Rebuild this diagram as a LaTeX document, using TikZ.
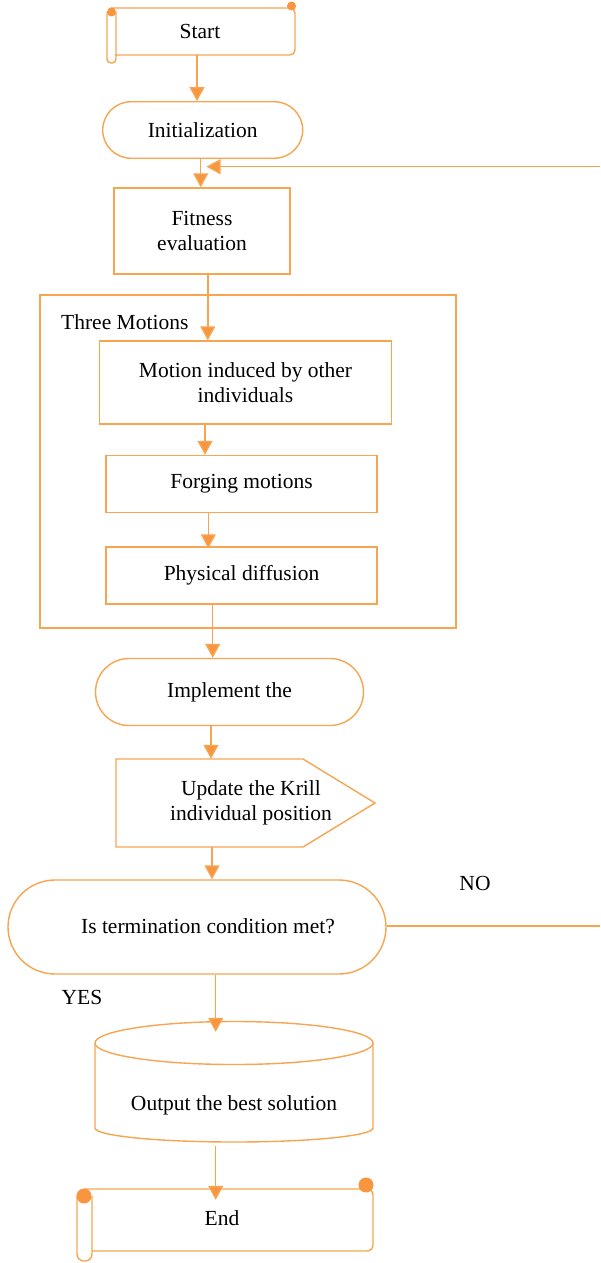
\documentclass[tikz,border=0pt]{standalone}
\usepackage{fontspec}
\setmainfont{Liberation Serif}
\usetikzlibrary{arrows.meta,shapes.misc}
\definecolor{org}{HTML}{F7A550}
\definecolor{dotc}{HTML}{F7963F}
\tikzset{
  line/.style={draw=org, line width=1.4pt},
  arr/.style={draw=org, line width=1.4pt, -{Triangle[length=14pt,width=15pt,fill=dotc]}},
  rbox/.style={line, rectangle, inner sep=0pt, align=center},
  pill/.style={line, rounded rectangle, inner sep=0pt, align=center},
  ghost/.style={rectangle, inner sep=0pt, align=center},
  lbl/.style={inner sep=0pt, align=center},
  dotf/.style={fill=dotc, draw=none},
}
\begin{document}
\begin{tikzpicture}[x=1pt,y=-1pt,font=\fontsize{21.5}{25.5}\selectfont]
\useasboundingbox (0,0) rectangle (600,1263);
\fill[white] (0,0) rectangle (600,1263);

% ---- Start scroll
\draw[line,rounded corners=5pt] (111,8) -- (295,8) -- (295,55) -- (115,55);
\draw[line,rounded corners=4pt] (107,12) -- (107,63) -- (116,63) -- (116,12);
\fill[dotf] (111.5,12) circle (4.5);
\fill[dotf] (291.5,6) circle (4.5);
\node[ghost,minimum width=180pt,minimum height=47pt] (start) at (205,31.5) {};
\node[lbl] (starttext) at (200,31) {Start};

% ---- Initialization
\node[pill,minimum width=200pt,minimum height=56.5pt] (init) at (202.7,130) {Initialization};

% ---- Fitness
\node[rbox,minimum width=176pt,minimum height=86pt] (fit) at (202,231) {Fitness\\evaluation};

% ---- Three motions
\node[rbox,minimum width=416pt,minimum height=333pt] (three) at (248,461.5) {};
\node[lbl,anchor=west] (threetext) at (61,322) {Three Motions};
\node[rbox,minimum width=292pt,minimum height=83pt] (motion) at (245.5,382.5) {Motion induced by other\\individuals};
\node[rbox,minimum width=271pt,minimum height=57pt] (forg) at (241.5,484) {Forging motions};
\node[rbox,minimum width=271pt,minimum height=57pt] (phys) at (241.5,575.5) {Physical diffusion};

% ---- Implement
\node[pill,minimum width=268pt,minimum height=67pt] (impl) at (229.5,692) {Implement the};

% ---- Update (pentagon)
\draw[line] (116,759) -- (303,759) -- (375,803) -- (303,847) -- (116,847) -- cycle;
\node[ghost,minimum width=259pt,minimum height=88pt] (upd) at (245.5,803) {};
\node[lbl] (updtext) at (251,803) {Update the Krill\\individual position};

% ---- Termination
\node[pill,minimum width=378pt,minimum height=94pt] (term) at (197,927) {};
\node[lbl] (termtext) at (208,926) {Is termination condition met?};
\node[lbl] (no) at (475,883) {NO};
\node[lbl] (yes) at (82,997) {YES};

% ---- Cylinder
\draw[line] (234,1043) ellipse [x radius=139pt, y radius=21.5pt];
\draw[line] (95,1043) -- (95,1128) arc [start angle=180, end angle=360, x radius=139pt, y radius=14pt] -- (373,1043);
\node[ghost,minimum width=278pt,minimum height=120pt] (cyl) at (234,1082) {};
\node[lbl] (cyltext) at (234,1105) {Output the best solution};

% ---- End scroll
\draw[line,rounded corners=6pt] (84,1189) -- (373,1189) -- (373,1251) -- (92,1251);
\draw[line,rounded corners=7pt] (77,1196) -- (77,1261) -- (92,1261) -- (92,1196);
\fill[dotf] (84,1196) circle (7.5);
\fill[dotf] (366,1185) circle (7.5);
\node[ghost,minimum width=281pt,minimum height=62pt] (endn) at (225,1220) {};
\node[lbl] (endtext) at (222,1218) {End};

% ---- column coordinates
\coordinate (c197) at (197,0);
\coordinate (c2007) at (200.7,0);
\coordinate (c208) at (207.8,0);
\coordinate (c205) at (205,0);
\coordinate (c2083) at (208.3,0);
\coordinate (c2127) at (212.7,0);
\coordinate (c211) at (211,0);
\coordinate (c212) at (212,0);
\coordinate (c216) at (215.7,0);
\coordinate (r1) at (600,166.7);
\coordinate (fbend) at (206.5,166.7);
\coordinate (r2) at (600,926);

% ---- connectors
\draw[arr] (start.south -| c197) -- (init.north -| c197);
\draw[arr] (init.south -| c2007) -- (fit.north -| c2007);
\draw[arr] (r1) -- (fbend);
\draw[arr] (fit.south -| c208) -- (motion.north -| c208);
\draw[arr] (motion.south -| c205) -- (forg.north -| c205);
\draw[arr] (forg.south -| c2083) -- ([yshift=-2pt]phys.north -| c2083);
\draw[arr] (phys.south -| c2127) -- (impl.north -| c2127);
\draw[arr] (impl.south -| c211) -- (upd.north -| c211);
\draw[arr] (upd.south -| c212) -- (term.north -| c212);
\draw[line] (term.east |- r2) -- (r2);
\draw[arr] (term.south -| c216) -- ([yshift=-10pt]cyl.north -| c216);
\draw[arr] ([yshift=-4pt]cyl.south -| c216) -- ([yshift=-11pt]endn.north -| c216);
\end{tikzpicture}
\end{document}
